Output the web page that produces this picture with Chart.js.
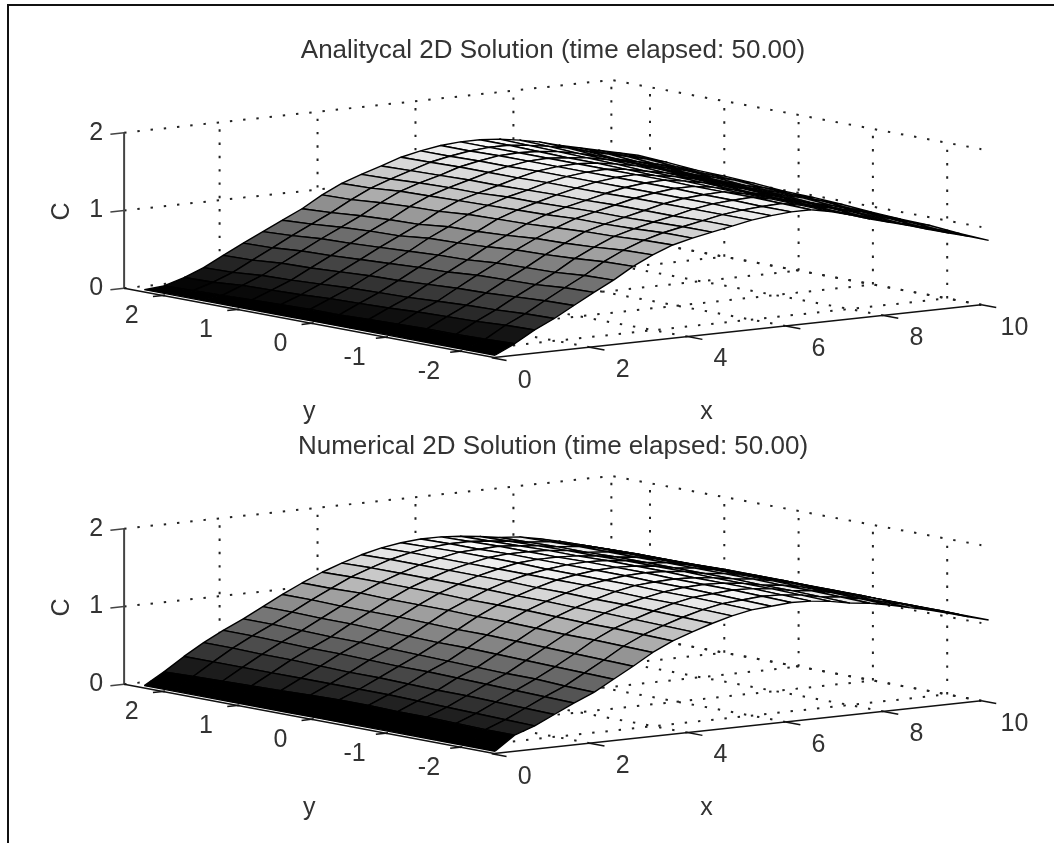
<!DOCTYPE html>
<html>
<head>
<meta charset="utf-8">
<style>
html,body{margin:0;padding:0;background:#fff;overflow:hidden}
#frame{position:absolute;left:7px;top:4px;width:1047px;height:839px;border-left:2px solid #111;border-top:2px solid #111;box-sizing:border-box}
.box{position:absolute;left:0;width:1054px;height:447px}
.box canvas{display:block}
</style>
<script src="https://cdn.jsdelivr.net/npm/chart.js@4"></script>
</head>
<body>
<div id="frame"></div>
<div class="box" style="top:0"><canvas id="top" width="1054" height="447"></canvas></div>
<div class="box" style="top:396px"><canvas id="bottom" width="1054" height="447"></canvas></div>
<script>
const titleTop = 'Analitycal 2D Solution (time elapsed: 50.00)';
const titleBottom = 'Numerical 2D Solution (time elapsed: 50.00)';
const xTicks = [0, 2, 4, 6, 8, 10];
const yTicks = [2, 1, 0, -1, -2];
const cTicks = [0, 1, 2];
const xGrid = [0.22,0.62,1.03,1.43,1.83,2.24,2.64,3.04,3.44,3.85,4.25,4.65,5.06,5.46,5.86,6.27,6.67,7.07,7.47,7.88,8.28,8.68,9.09,9.49,9.89,10.3];
const yGrid = [-2.36,-1.967,-1.573,-1.18,-0.787,-0.393,0,0.393,0.787,1.18,1.573,1.967,2.36];
// C[x index][y index]
const analytical = [
[0,0,0,0,0,0,0,0,0,0,0,0,0],
[.12,.11,.10,.10,.09,.08,.07,.07,.06,.05,.04,.03,.02],
[.27,.26,.24,.23,.22,.20,.19,.18,.16,.15,.14,.11,.10],
[.39,.38,.36,.35,.33,.31,.30,.29,.27,.25,.24,.21,.20],
[.53,.52,.50,.48,.47,.45,.43,.42,.40,.38,.37,.34,.33],
[.67,.66,.63,.62,.61,.58,.57,.55,.53,.51,.50,.47,.46],
[.80,.79,.76,.75,.74,.71,.70,.68,.66,.64,.63,.60,.58],
[.95,.94,.91,.89,.88,.85,.83,.82,.78,.77,.75,.72,.70],
[1.07,1.06,1.03,1.01,1.00,.97,.95,.94,.90,.89,.87,.84,.82],
[1.17,1.16,1.14,1.13,1.11,1.09,1.08,1.07,1.04,1.03,1.01,.98,.97],
[1.23,1.23,1.21,1.20,1.20,1.18,1.17,1.16,1.15,1.14,1.13,1.10,1.09],
[1.28,1.28,1.27,1.26,1.26,1.25,1.24,1.24,1.22,1.22,1.21,1.19,1.18],
[1.33,1.33,1.32,1.32,1.32,1.31,1.31,1.30,1.29,1.29,1.28,1.27,1.26],
[1.38,1.38,1.38,1.38,1.38,1.37,1.37,1.37,1.36,1.36,1.36,1.35,1.345],
[1.41,1.41,1.42,1.42,1.42,1.42,1.42,1.42,1.42,1.41,1.41,1.40,1.40],
[1.43,1.43,1.44,1.44,1.45,1.45,1.45,1.45,1.45,1.45,1.45,1.44,1.44],
[1.43,1.44,1.45,1.45,1.45,1.46,1.46,1.46,1.46,1.46,1.46,1.46,1.46],
[1.38,1.39,1.40,1.40,1.41,1.42,1.42,1.43,1.44,1.44,1.45,1.46,1.46],
[1.31,1.32,1.33,1.34,1.35,1.37,1.38,1.38,1.40,1.41,1.42,1.43,1.44],
[1.23,1.24,1.26,1.27,1.28,1.30,1.32,1.33,1.35,1.36,1.37,1.39,1.40],
[1.16,1.17,1.20,1.21,1.22,1.24,1.25,1.27,1.29,1.30,1.31,1.34,1.35],
[1.09,1.10,1.13,1.14,1.15,1.17,1.18,1.20,1.22,1.23,1.24,1.27,1.28],
[1.01,1.02,1.05,1.06,1.07,1.10,1.11,1.13,1.15,1.17,1.18,1.21,1.22],
[.94,.95,.98,1.00,1.01,1.04,1.05,1.06,1.09,1.11,1.12,1.15,1.16],
[.87,.88,.91,.93,.94,.97,.98,1.00,1.03,1.04,1.06,1.09,1.10],
[.79,.81,.84,.85,.87,.90,.92,.93,.96,.98,.99,1.02,1.04]
];
const numerical = [
[0,0,0,0,0,0,0,0,0,0,0,0,0],
[.18,.18,.19,.20,.20,.21,.21,.20,.19,.18,.17,.16,.15],
[.27,.28,.29,.30,.31,.32,.32,.32,.32,.32,.32,.32,.32],
[.39,.40,.41,.42,.42,.43,.44,.44,.45,.46,.46,.47,.47],
[.51,.52,.53,.54,.55,.56,.56,.57,.58,.58,.59,.60,.60],
[.62,.63,.65,.65,.66,.67,.68,.69,.70,.70,.71,.72,.72],
[.76,.77,.78,.79,.80,.81,.81,.82,.83,.84,.84,.85,.85],
[.90,.91,.92,.93,.94,.95,.95,.96,.97,.97,.97,.98,.98],
[1.05,1.06,1.07,1.07,1.08,1.09,1.09,1.10,1.10,1.10,1.11,1.10,1.10],
[1.17,1.18,1.19,1.19,1.20,1.21,1.21,1.21,1.22,1.22,1.22,1.22,1.21],
[1.26,1.27,1.28,1.29,1.29,1.30,1.30,1.31,1.31,1.31,1.31,1.31,1.30],
[1.34,1.35,1.36,1.37,1.37,1.38,1.38,1.39,1.39,1.39,1.39,1.39,1.38],
[1.41,1.42,1.43,1.43,1.44,1.45,1.45,1.45,1.45,1.45,1.45,1.45,1.44],
[1.46,1.47,1.48,1.48,1.49,1.49,1.49,1.49,1.50,1.50,1.50,1.49,1.48],
[1.48,1.49,1.50,1.51,1.51,1.52,1.52,1.52,1.52,1.52,1.51,1.51,1.50],
[1.50,1.51,1.52,1.52,1.52,1.53,1.53,1.53,1.52,1.52,1.52,1.51,1.50],
[1.49,1.50,1.51,1.51,1.51,1.52,1.52,1.52,1.51,1.51,1.50,1.49,1.48],
[1.46,1.47,1.48,1.48,1.48,1.49,1.49,1.49,1.48,1.48,1.47,1.46,1.45],
[1.41,1.42,1.43,1.43,1.44,1.44,1.44,1.44,1.44,1.43,1.43,1.42,1.41],
[1.38,1.39,1.40,1.40,1.41,1.41,1.41,1.41,1.41,1.41,1.41,1.40,1.39],
[1.33,1.34,1.35,1.35,1.36,1.36,1.36,1.36,1.36,1.36,1.36,1.35,1.34],
[1.27,1.28,1.29,1.29,1.30,1.30,1.30,1.30,1.30,1.30,1.30,1.29,1.28],
[1.21,1.22,1.23,1.23,1.23,1.24,1.24,1.24,1.23,1.23,1.23,1.22,1.21],
[1.14,1.15,1.15,1.16,1.16,1.16,1.16,1.16,1.16,1.15,1.15,1.14,1.13],
[1.07,1.08,1.08,1.08,1.08,1.08,1.08,1.08,1.08,1.07,1.07,1.06,1.05],
[1.00,1.00,1.00,1.00,1.00,1.00,1.00,1.00,1.00,1.00,.99,.99,.98]
];

// axis box limits of the 3-D view
const xMin = 0.05, xMax = 10, yMin = -2.46, yMax = 2.52, cMin = 0, cMax = 2;
// fixed view: how one unit of x, y, C moves on the projection plane
function project(x, y, c) {
  return {x: 308.9 + 48.97 * x - 74.3 * y, y: 323.6 - 5.3 * x - 13.9 * y - 77.8 * c};
}
const FAMILY = '"Liberation Sans", Arial, sans-serif';
const INK = '#333333';

function seg(points, color, width, dash) {
  return {data: points, showLine: true, pointRadius: 0, borderColor: color, borderWidth: width,
    borderDash: dash || [], backgroundColor: 'transparent', fill: false, clip: false, tension: 0,
    borderCapStyle: 'butt', borderJoinStyle: 'miter'};
}

function buildDatasets(surface, shadeMax) {
  const out = [];
  for (let i = 0; i < xGrid.length - 1; i++) {
    for (let j = 0; j < yGrid.length - 1; j++) {
      const g = Math.round(255 * Math.min(1, surface[i][j] / shadeMax));
      out.push({
        data: [
          project(xGrid[i], yGrid[j], surface[i][j]),
          project(xGrid[i + 1], yGrid[j], surface[i + 1][j]),
          project(xGrid[i + 1], yGrid[j + 1], surface[i + 1][j + 1]),
          project(xGrid[i], yGrid[j + 1], surface[i][j + 1]),
          project(xGrid[i], yGrid[j], surface[i][j])
        ],
        showLine: true, pointRadius: 0, borderColor: '#000', borderWidth: 1.4, tension: 0, clip: false,
        backgroundColor: 'rgb(' + g + ',' + g + ',' + g + ')', fill: 'shape', borderJoinStyle: 'bevel'
      });
    }
  }
  // solid axes
  const axis = '#111', cAxis = '#444';
  out.push(seg([project(xMin, yMax, 0), project(xMin, yMin, 0), project(xMax, yMin, 0)], axis, 1.4));
  out.push(seg([project(xMin, yMax, cMin), project(xMin, yMax, cMax)], cAxis, 2));
  cTicks.forEach(c => out.push(seg([project(xMin, yMax, c), project(xMin - 0.28, yMax, c)], cAxis, 1.5)));
  xTicks.forEach(x => out.push(seg([project(x, yMin, 0), project(x, yMin - 0.2, 0)], axis, 1.5)));
  yTicks.forEach(y => out.push(seg([project(xMin, y, 0), project(xMin - 0.2, y, 0)], axis, 1.5)));
  // dotted grid on walls and floor
  const dots = [2.4, 10.9], dc = '#222', dw = 2;
  cTicks.forEach(c => {
    out.push(seg([project(xMin, yMax, c), project(xMax, yMax, c), project(xMax, yMin, c)], dc, dw, dots));
  });
  xTicks.filter(x => x > 0).forEach(x => {
    out.push(seg([project(x, yMax, 0), project(x, yMax, cMax)], dc, dw, dots));
    out.push(seg([project(x, yMin, 0), project(x, yMax, 0)], dc, dw, dots));
  });
  yTicks.forEach(y => {
    out.push(seg([project(xMax, y, 0), project(xMax, y, cMax)], dc, dw, dots));
    out.push(seg([project(xMin, y, 0), project(xMax, y, 0)], dc, dw, dots));
  });
  return out;
}

const labelPlugin = {
  id: 'axisText',
  afterDatasetsDraw(chart) {
    const ctx = chart.ctx, sx = chart.scales.x, sy = chart.scales.y;
    const put = (t, px, py, rot) => {
      ctx.save();
      ctx.translate(sx.getPixelForValue(px), sy.getPixelForValue(py));
      if (rot) ctx.rotate(rot);
      ctx.fillText(t, 0, 0);
      ctx.restore();
    };
    ctx.save();
    ctx.font = '25px ' + FAMILY; ctx.fillStyle = INK; ctx.textAlign = 'center'; ctx.textBaseline = 'middle';
    xTicks.forEach(x => { const p = project(x, yMin, 0); put(String(x), p.x + 33, p.y + 23); });
    yTicks.forEach(y => { const p = project(xMin, y, 0); put(String(y), p.x - 31, p.y + 21); });
    cTicks.forEach(c => { const p = project(xMin, yMax, c); put(String(c), p.x - 28, p.y); });
    const px = project(5, yMin, 0), py = project(xMin, 0, 0), pc = project(xMin, yMax, 1);
    put('x', px.x - 30, px.y + 81);
    put('y', py.x - 2, py.y + 89);
    put('C', pc.x - 62, pc.y + 1, -Math.PI / 2);
    ctx.restore();
  }
};

function build(id, title, surface, shadeMax) {
  return new Chart(document.getElementById(id), {
    type: 'scatter',
    data: {datasets: buildDatasets(surface, shadeMax)},
    plugins: [labelPlugin],
    options: {
      responsive: false, animation: false, events: [],
      layout: {padding: {left: 52, right: 0, top: 0, bottom: 0}},
      plugins: {
        legend: {display: false}, tooltip: {enabled: false},
        title: {display: true, text: title, color: INK, font: {family: FAMILY, size: 26, weight: 'normal', lineHeight: 1.2}, padding: {top: 35, bottom: 0}}
      },
      scales: {
        x: {type: 'linear', display: false, min: 52, max: 1054},
        y: {type: 'linear', display: false, reverse: true, min: 66.2, max: 447}
      }
    }
  });
}
build('top', titleTop, analytical, 1.5);
build('bottom', titleBottom, numerical, 1.55);
</script>
</body>
</html>
